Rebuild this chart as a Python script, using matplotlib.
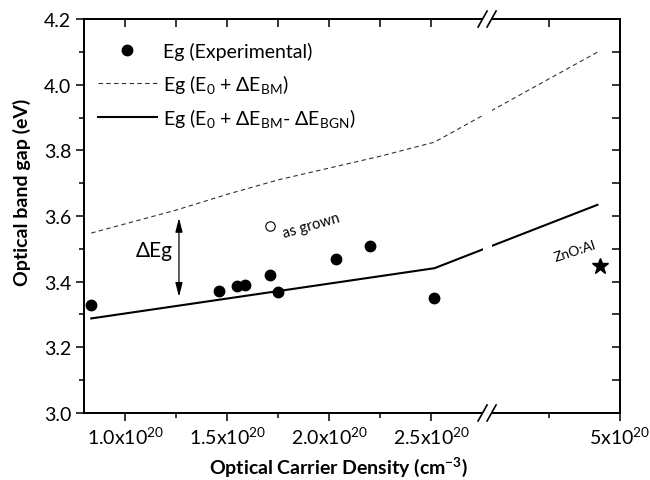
import numpy as np
import matplotlib
matplotlib.use('Agg')
import matplotlib.pyplot as plt
from matplotlib.lines import Line2D
from matplotlib.patches import Rectangle

plt.rcParams['font.family'] = ['Lato', 'DejaVu Sans']
plt.rcParams['mathtext.fontset'] = 'custom'
plt.rcParams['mathtext.rm'] = 'Lato'
plt.rcParams['mathtext.it'] = 'Lato:italic'
plt.rcParams['mathtext.bf'] = 'Lato:bold'

# ---------------- data (carrier density in units of 1e20 cm^-3) ----------------
exp_n = [0.834, 1.461, 1.549, 1.590, 1.712, 1.748, 2.035, 2.201, 2.516]
exp_eg = [3.330, 3.371, 3.386, 3.390, 3.420, 3.370, 3.469, 3.510, 3.349]
grown_n = [1.712]
grown_eg = [3.571]
znoal_n = [4.855]
znoal_eg = [3.449]
bm_n = [0.834, 1.0, 1.25, 1.5, 1.75, 2.0, 2.25, 2.516, 4.84]
bm_eg = [3.548, 3.576, 3.618, 3.666, 3.710, 3.746, 3.782, 3.825, 4.099]
bgn_n = [0.834, 2.516, 4.84]
bgn_eg = [3.288, 3.441, 3.634]

xtick_vals = [1.0, 1.5, 2.0, 2.5, 5.0]
xtick_labels = [r'1.0x10$^{20}$', r'1.5x10$^{20}$', r'2.0x10$^{20}$',
                r'2.5x10$^{20}$', r'5x10$^{20}$']
xminor_vals = [1.25, 1.75, 2.25, 4.5]
ytick_vals = [3.0, 3.2, 3.4, 3.6, 3.8, 4.0, 4.2]
ytick_labels = ['3.0', '3.2', '3.4', '3.6', '3.8', '4.0', '4.2']
yminor_vals = [3.1, 3.3, 3.5, 3.7, 3.9, 4.1]

# ---------------- broken x scale ----------------
X_MIN, X_MAX = 0.8, 5.0
B1, B2 = 2.774, 4.061   # break: left segment ends, right segment starts
S2 = 0.694              # relative scale of the right segment


def fwd(x):
    x = np.asarray(x, dtype=float)
    return np.where(x <= B1, x, np.where(x >= B2, B1 + (x - B2) * S2, B1))


def inv(u):
    u = np.asarray(u, dtype=float)
    return np.where(u <= B1, u, B2 + (u - B1) / S2)


fig = plt.figure(figsize=(6.5, 4.81), dpi=100)
ax = fig.add_axes([0.1297, 0.1393, 0.8242, 0.8191])
ax.set_xscale('function', functions=(fwd, inv))
ax.set_xlim(X_MIN, X_MAX)
ax.set_ylim(3.0, 4.2)

h_bm, = ax.plot(bm_n, bm_eg, ls=(0, (4, 3)), lw=0.8, color='#333333')
h_bgn, = ax.plot(bgn_n, bgn_eg, ls='-', lw=1.5, color='black')
h_exp, = ax.plot(exp_n, exp_eg, ls='none', marker='o', ms=7.5, color='black')
ax.plot(grown_n, grown_eg, ls='none', marker='o', ms=6.8, mfc='white',
        mec='black', mew=0.8)
ax.plot(znoal_n, znoal_eg, ls='none', marker='*', ms=12, color='black')

ax.set_xticks(xtick_vals)
ax.set_xticklabels(xtick_labels)
ax.set_xticks(xminor_vals, minor=True)
ax.set_yticks(ytick_vals)
ax.set_yticklabels(ytick_labels)
ax.set_yticks(yminor_vals, minor=True)
ax.tick_params(which='major', direction='out', length=6, width=1.1,
               labelsize=14, top=False, right=False)
ax.tick_params(which='minor', direction='out', length=3.5, width=1.1,
               top=False, right=False)
ax.tick_params(axis='x', which='major', pad=3)

# top ticks (inward)
axt = ax.twiny()
axt.set_xscale('function', functions=(fwd, inv))
axt.set_xlim(X_MIN, X_MAX)
axt.set_xticks([1.0, 1.25, 1.5, 1.75, 2.0, 2.25, 2.5, 4.5])
axt.set_xticklabels([])
axt.tick_params(axis='x', direction='in', length=6, width=1.1, labeltop=False)
# right ticks (inward)
axr = ax.twinx()
axr.set_ylim(3.0, 4.2)
axr.set_yticks(ytick_vals[1:-1] + yminor_vals)
axr.set_yticklabels([])
axr.tick_params(axis='y', direction='in', length=6, width=1.1, labelright=False)

for a in (ax, axt, axr):
    for s in a.spines.values():
        s.set_linewidth(1.1)

ax.set_xlabel(r'Optical Carrier Density (cm$^{\mathbf{-3}}$)',
              fontsize=14, fontweight='bold')
ax.set_ylabel('Optical band gap (eV)', fontsize=14, fontweight='bold')
ax.xaxis.set_label_coords(0.474, -0.105)
ax.yaxis.set_label_coords(-0.1, 0.563)

# annotations
ax.annotate('', xy=(1.264, 3.354), xytext=(1.264, 3.594),
            arrowprops=dict(arrowstyle='<|-|>,head_length=0.7,head_width=0.18',
                            lw=0.9, color='black', shrinkA=0, shrinkB=0,
                            mutation_scale=12))
ax.text(1.142, 3.497, 'ΔEg', fontsize=15, ha='center', va='center')
ax.text(1.914, 3.573, 'as grown', rotation=16, fontsize=10.5,
        ha='center', va='center')
ax.text(4.68, 3.495, 'ZnO:Al', rotation=18, fontsize=10,
        ha='center', va='center')

labels = ['Eg (Experimental)',
          r'Eg (E$_{0}$ + ΔE$_{\mathrm{BM}}$)',
          r'Eg (E$_{0}$ + ΔE$_{\mathrm{BM}}$- ΔE$_{\mathrm{BGN}}$)']
ax.legend([h_exp, h_bm, h_bgn], labels, loc='upper left',
          bbox_to_anchor=(0.026, 0.942), frameon=False, fontsize=14,
          handlelength=3.0, handletextpad=0.35, borderaxespad=0,
          borderpad=0, labelspacing=0.6)

# axis break: white gap + double slashes on both horizontal spines
u0, u1 = fwd(X_MIN), fwd(X_MAX)
cx = float((fwd(B1) - u0) / (u1 - u0))
ax_w_px = 0.8242 * 650
ax_h_px = 0.8191 * 481
px_x = 1.0 / ax_w_px
px_y = 1.0 / ax_h_px
gap = Rectangle((cx - 4.5 * px_x, -0.01), 9 * px_x, 1.02,
                transform=ax.transAxes, facecolor='white',
                edgecolor='none', zorder=20)
fig.add_artist(gap)
for yb in (0.0, 1.0):
    for off in (-4.5, 4.5):
        c = cx + off * px_x
        fig.add_artist(Line2D([c - 4.5 * px_x, c + 4.5 * px_x],
                              [yb - 8 * px_y, yb + 8 * px_y],
                              transform=ax.transAxes, color='black',
                              lw=1.2, zorder=21))

fig.savefig('out.png', dpi=100)
